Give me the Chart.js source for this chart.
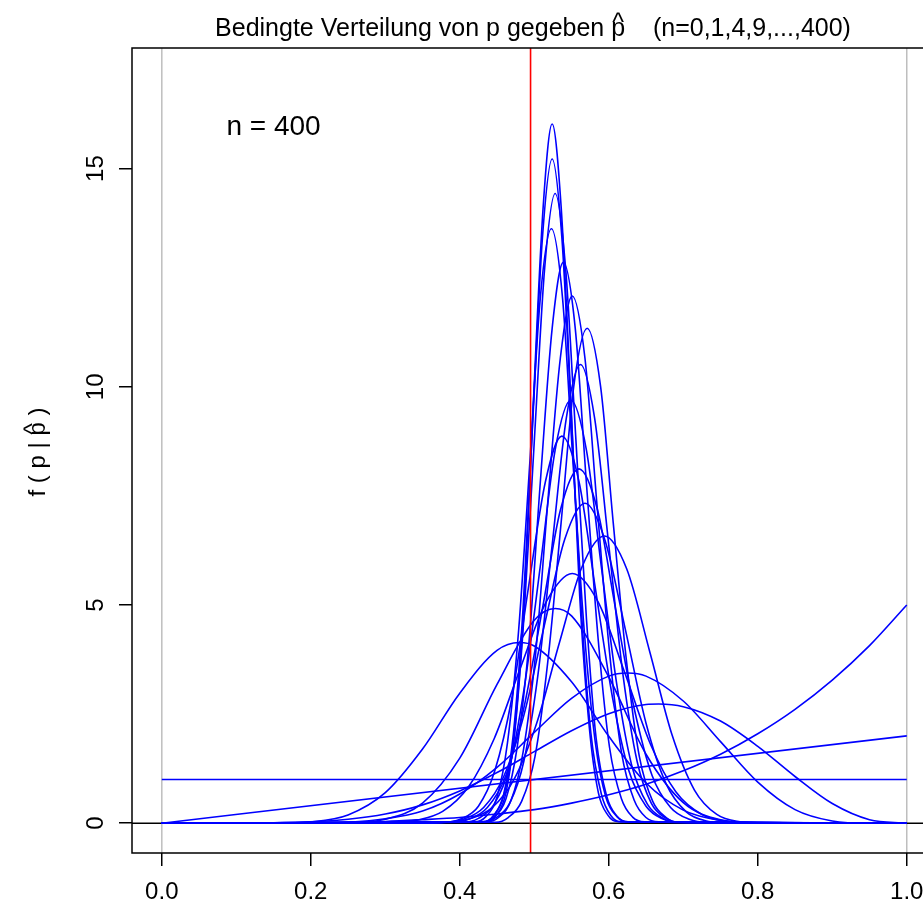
<!DOCTYPE html>
<html>
<head>
<meta charset="utf-8">
<title>Bedingte Verteilung von p gegeben p-hat</title>
<script src="https://cdn.jsdelivr.net/npm/chart.js@4.4.1/dist/chart.umd.min.js"></script>
<style>
  html, body { margin: 0; padding: 0; background: #fff; }
  canvas { display: block; }
</style>
</head>
<body>
<canvas id="chart" width="923" height="906"></canvas>
<script>
// Stichprobenumfaenge n = 0,1,4,9,...,400 (eine Kurve pro n)
const sampleSizes = [0, 1, 4, 9, 16, 25, 36, 49, 64, 81, 100, 121, 144, 169, 196, 225, 256, 289, 324, 361, 400];

// Dichtekurven [p, f(p | p-hat)]
const curveN0 = [[0, 1], [1, 1]];
const curveN1 = [[0, 0], [1, 2]];
const curveN4 = [[0, 0], [0.1, 0], [0.2, 0.01], [0.3, 0.04], [0.35, 0.08], [0.4, 0.13], [0.45, 0.21], [0.5, 0.31], [0.55, 0.46], [0.6, 0.65], [0.65, 0.89], [0.7, 1.20], [0.75, 1.58], [0.8, 2.05], [0.85, 2.61], [0.9, 3.28], [0.95, 4.07], [1, 5]];
const curveN9 = [[0, 0], [0.1, 0], [0.15, 0.01], [0.2, 0.03], [0.25, 0.09], [0.3, 0.21], [0.35, 0.42], [0.4, 0.74], [0.45, 1.16], [0.5, 1.64], [0.55, 2.12], [0.6, 2.51], [0.65, 2.72], [0.667, 2.73], [0.7, 2.67], [0.75, 2.34], [0.8, 1.76], [0.85, 1.07], [0.9, 0.45], [0.95, 0.08], [1, 0]];
const curveN16 = [[0, 0], [0.15, 0], [0.2, 0], [0.25, 0.02], [0.3, 0.10], [0.35, 0.28], [0.4, 0.67], [0.45, 1.28], [0.5, 2.08], [0.55, 2.86], [0.6, 3.37], [0.625, 3.44], [0.65, 3.37], [0.7, 2.80], [0.75, 1.87], [0.8, 0.94], [0.85, 0.31], [0.9, 0.05], [0.95, 0], [1, 0]];
const curveN25 = [[0, 0], [0.1, 0], [0.15, 0], [0.2, 0.03], [0.25, 0.19], [0.3, 0.70], [0.35, 1.70], [0.4, 2.98], [0.45, 3.96], [0.48, 4.14], [0.5, 4.06], [0.55, 3.24], [0.6, 1.99], [0.65, 0.92], [0.7, 0.30], [0.75, 0.06], [0.8, 0.01], [0.85, 0], [1, 0]];
const curveN36 = [[0, 0], [0.2, 0], [0.25, 0.01], [0.3, 0.09], [0.35, 0.46], [0.4, 1.49], [0.45, 3.18], [0.5, 4.65], [0.528, 4.92], [0.55, 4.75], [0.6, 3.35], [0.65, 1.58], [0.7, 0.47], [0.75, 0.08], [0.8, 0.01], [0.85, 0], [1, 0]];
const curveN49 = [[0, 0], [0.27, 0], [0.307, 0.01], [0.342, 0.07], [0.377, 0.27], [0.412, 0.84], [0.446, 1.93], [0.481, 3.54], [0.516, 5.07], [0.551, 5.72], [0.586, 5.06], [0.621, 3.47], [0.656, 1.81], [0.690, 0.72], [0.725, 0.20], [0.760, 0.04], [0.795, 0], [1, 0]];
const curveN64 = [[0, 0], [0.35, 0], [0.382, 0.02], [0.413, 0.10], [0.443, 0.35], [0.473, 1.01], [0.503, 2.28], [0.534, 4.15], [0.564, 5.87], [0.594, 6.58], [0.624, 5.83], [0.655, 3.93], [0.685, 2.02], [0.715, 0.76], [0.745, 0.20], [0.776, 0.03], [0.806, 0], [1, 0]];
const curveN81 = [[0, 0], [0.35, 0], [0.378, 0.02], [0.405, 0.09], [0.432, 0.36], [0.459, 1.07], [0.486, 2.47], [0.514, 4.57], [0.541, 6.51], [0.568, 7.33], [0.595, 6.48], [0.622, 4.46], [0.650, 2.29], [0.677, 0.90], [0.704, 0.26], [0.731, 0.05], [0.758, 0.01], [1, 0]];
const curveN100 = [[0, 0], [0.388, 0.02], [0.412, 0.09], [0.437, 0.36], [0.462, 1.10], [0.486, 2.64], [0.511, 4.92], [0.535, 7.17], [0.560, 8.12], [0.585, 7.17], [0.609, 4.92], [0.634, 2.64], [0.658, 1.10], [0.683, 0.36], [0.708, 0.09], [0.732, 0.02], [1, 0]];
const curveN121 = [[0, 0], [0.380, 0.02], [0.402, 0.10], [0.425, 0.39], [0.447, 1.20], [0.470, 2.88], [0.492, 5.38], [0.515, 7.83], [0.537, 8.87], [0.560, 7.83], [0.582, 5.38], [0.605, 2.88], [0.627, 1.20], [0.650, 0.39], [0.672, 0.10], [0.695, 0.02], [1, 0]];
const curveN144 = [[0, 0], [0.405, 0.02], [0.425, 0.11], [0.446, 0.43], [0.467, 1.31], [0.487, 3.15], [0.508, 5.88], [0.528, 8.55], [0.549, 9.69], [0.570, 8.55], [0.590, 5.88], [0.611, 3.15], [0.631, 1.31], [0.652, 0.43], [0.673, 0.11], [0.693, 0.02], [1, 0]];
const curveN169 = [[0, 0], [0.429, 0.02], [0.448, 0.12], [0.467, 0.46], [0.486, 1.42], [0.505, 3.41], [0.524, 6.37], [0.543, 9.28], [0.562, 10.51], [0.581, 9.28], [0.600, 6.37], [0.619, 3.41], [0.638, 1.42], [0.657, 0.46], [0.676, 0.12], [0.695, 0.02], [1, 0]];
const curveN196 = [[0, 0], [0.448, 0.02], [0.465, 0.13], [0.483, 0.50], [0.501, 1.53], [0.518, 3.68], [0.536, 6.88], [0.553, 10.01], [0.571, 11.34], [0.589, 10.01], [0.606, 6.88], [0.624, 3.68], [0.641, 1.53], [0.659, 0.50], [0.677, 0.13], [0.694, 0.02], [1, 0]];
const curveN225 = [[0, 0], [0.436, 0.03], [0.452, 0.13], [0.469, 0.53], [0.485, 1.63], [0.502, 3.92], [0.518, 7.33], [0.535, 10.66], [0.551, 12.08], [0.568, 10.66], [0.584, 7.33], [0.601, 3.92], [0.617, 1.63], [0.634, 0.53], [0.650, 0.13], [0.667, 0.03], [1, 0]];
const curveN256 = [[0, 0], [0.431, 0.03], [0.446, 0.14], [0.462, 0.56], [0.477, 1.74], [0.493, 4.17], [0.508, 7.79], [0.524, 11.34], [0.539, 12.85], [0.555, 11.34], [0.570, 7.79], [0.586, 4.17], [0.601, 1.74], [0.617, 0.56], [0.632, 0.14], [0.648, 0.03], [1, 0]];
const curveN289 = [[0, 0], [0.420, 0.03], [0.435, 0.15], [0.450, 0.60], [0.464, 1.84], [0.479, 4.42], [0.494, 8.26], [0.508, 12.02], [0.523, 13.62], [0.538, 12.02], [0.552, 8.26], [0.567, 4.42], [0.582, 1.84], [0.596, 0.60], [0.611, 0.15], [0.626, 0.03], [1, 0]];
const curveN324 = [[0, 0], [0.431, 0.03], [0.445, 0.16], [0.459, 0.63], [0.473, 1.95], [0.486, 4.69], [0.500, 8.75], [0.514, 12.73], [0.528, 14.43], [0.542, 12.73], [0.556, 8.75], [0.570, 4.69], [0.583, 1.95], [0.597, 0.63], [0.611, 0.16], [0.625, 0.03], [1, 0]];
const curveN361 = [[0, 0], [0.432, 0.03], [0.445, 0.17], [0.459, 0.67], [0.472, 2.06], [0.485, 4.94], [0.498, 9.23], [0.511, 13.43], [0.524, 15.22], [0.537, 13.43], [0.550, 9.23], [0.563, 4.94], [0.576, 2.06], [0.590, 0.67], [0.603, 0.17], [0.616, 0.03], [1, 0]];
const curveN400 = [[0, 0], [0.437, 0.04], [0.449, 0.18], [0.462, 0.70], [0.474, 2.17], [0.487, 5.20], [0.499, 9.72], [0.512, 14.14], [0.524, 16.02], [0.536, 14.14], [0.549, 9.72], [0.561, 5.20], [0.574, 2.17], [0.586, 0.70], [0.599, 0.18], [0.611, 0.04], [1, 0]];

const curves = [curveN0, curveN1, curveN4, curveN9, curveN16, curveN25, curveN36, curveN49, curveN64, curveN81,
  curveN100, curveN121, curveN144, curveN169, curveN196, curveN225, curveN256, curveN289, curveN324, curveN361, curveN400];

// Achsen und Hilfslinien
const xTicks = [0, 0.2, 0.4, 0.6, 0.8, 1.0];
const yTicks = [0, 5, 10, 15];
const boundaryLines = [0, 1];   // graue Linien bei p = 0 und p = 1
const pHat = 0.495;             // rote Linie
const lastLabel = { p: 0.15, f: 16, text: 'n = 400' };

const FONT = "'Liberation Sans', Arial, Helvetica, sans-serif";
const BLUE = '#0000ff';

// Text mit Dach ueber einem Buchstaben (wie hat(p) in R), zentriert um x
function hatText(ctx, before, letter, after, x, y, size) {
  ctx.font = size + 'px ' + FONT;
  ctx.textAlign = 'left';
  const wBefore = ctx.measureText(before).width;
  const wLetter = ctx.measureText(letter).width;
  const total = wBefore + wLetter + ctx.measureText(after).width;
  const x0 = x - total / 2;
  ctx.fillText(before, x0, y);
  ctx.fillText(letter, x0 + wBefore, y);
  ctx.fillText(after, x0 + wBefore + wLetter, y);
  ctx.textAlign = 'center';
  ctx.fillText('^', x0 + wBefore + wLetter / 2, y - size * 0.2);
}

// R-artiger Rahmen, Beschriftungen und Linien
const rDecorations = {
  id: 'rDecorations',
  beforeDatasetsDraw(chart) {
    const { ctx, chartArea: a, scales: { x, y } } = chart;
    ctx.save();
    ctx.lineWidth = 1.5;
    ctx.strokeStyle = '#bebebe';
    boundaryLines.forEach(v => {
      const px = x.getPixelForValue(v);
      ctx.beginPath();
      ctx.moveTo(px, a.top);
      ctx.lineTo(px, a.bottom);
      ctx.stroke();
    });
    ctx.strokeStyle = '#000';
    const y0 = y.getPixelForValue(0);
    ctx.beginPath();
    ctx.moveTo(a.left, y0);
    ctx.lineTo(a.right, y0);
    ctx.stroke();
    ctx.restore();
  },
  afterDatasetsDraw(chart) {
    const { ctx, chartArea: a, scales: { x, y } } = chart;
    ctx.save();

    // rote Linie bei p-hat
    ctx.strokeStyle = '#ff0000';
    ctx.lineWidth = 1.6;
    const pr = x.getPixelForValue(pHat);
    ctx.beginPath();
    ctx.moveTo(pr, a.top);
    ctx.lineTo(pr, a.bottom);
    ctx.stroke();

    // Rahmen (rechte Seite liegt ausserhalb des Bildes)
    ctx.strokeStyle = '#000';
    ctx.lineWidth = 1.5;
    ctx.beginPath();
    ctx.moveTo(a.right + 5, a.top);
    ctx.lineTo(a.left, a.top);
    ctx.lineTo(a.left, a.bottom);
    ctx.lineTo(a.right + 5, a.bottom);
    ctx.stroke();

    ctx.fillStyle = '#000';
    ctx.textBaseline = 'alphabetic';

    // x-Achsenbeschriftung
    ctx.font = '24px ' + FONT;
    ctx.textAlign = 'center';
    xTicks.forEach(v => ctx.fillText(v.toFixed(1), x.getPixelForValue(v), 899));

    // y-Achsenbeschriftung (gedreht wie in R)
    yTicks.forEach(v => {
      ctx.save();
      ctx.translate(103, y.getPixelForValue(v));
      ctx.rotate(-Math.PI / 2);
      ctx.fillText(String(v), 0, 0);
      ctx.restore();
    });

    // y-Achsentitel
    ctx.save();
    ctx.translate(45, 452);
    ctx.rotate(-Math.PI / 2);
    hatText(ctx, 'f ( p | ', 'p', ' )', 0, 0, 24);
    ctx.restore();

    // Titel
    hatText(ctx, 'Bedingte Verteilung von p gegeben ', 'p', '    (n=0,1,4,9,...,400)', 533, 36, 25);

    // Textmarke im Diagramm
    ctx.font = '28px ' + FONT;
    ctx.textAlign = 'center';
    ctx.fillText(lastLabel.text, x.getPixelForValue(lastLabel.p), y.getPixelForValue(lastLabel.f) + 10);

    ctx.restore();
  }
};

new Chart(document.getElementById('chart'), {
  type: 'scatter',
  data: {
    datasets: curves.map((pts, i) => ({
      label: 'n = ' + sampleSizes[i],
      data: pts.map(([p, f]) => ({ x: p, y: f })),
      showLine: true,
      borderColor: BLUE,
      borderWidth: 1.6,
      pointRadius: 0,
      cubicInterpolationMode: 'monotone',
      fill: false
    }))
  },
  options: {
    animation: false,
    responsive: false,
    devicePixelRatio: 1,
    events: [],
    layout: { autoPadding: false, padding: { top: 48, right: 0, bottom: 0, left: 0 } },
    plugins: {
      legend: { display: false },
      tooltip: { enabled: false },
      title: { display: false }
    },
    scales: {
      x: {
        type: 'linear',
        min: -0.04,
        max: 1.0218,
        afterFit: s => { s.height = 53; },
        afterBuildTicks: s => { s.ticks = xTicks.map(v => ({ value: v })); },
        grid: { drawOnChartArea: false, drawTicks: true, tickLength: 13, color: '#000', lineWidth: 1.5 },
        border: { display: false },
        ticks: { display: false }
      },
      y: {
        type: 'linear',
        min: -0.683,
        max: 17.763,
        afterFit: s => { s.width = 132; },
        afterBuildTicks: s => { s.ticks = yTicks.map(v => ({ value: v })); },
        grid: { drawOnChartArea: false, drawTicks: true, tickLength: 13, color: '#000', lineWidth: 1.5 },
        border: { display: false },
        ticks: { display: false }
      }
    }
  },
  plugins: [rDecorations]
});
</script>
</body>
</html>
